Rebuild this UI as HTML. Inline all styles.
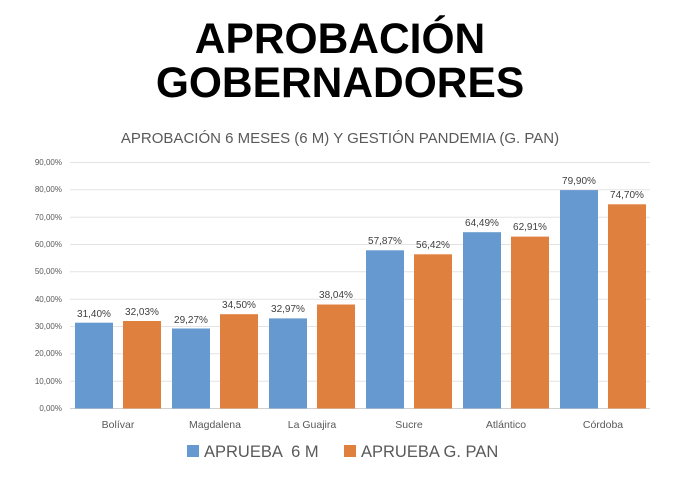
<!DOCTYPE html>
<html><head><meta charset="utf-8"><style>
body{margin:0;background:#fff;width:680px;height:489px;overflow:hidden}
</style></head><body>
<svg width="680" height="489" xmlns="http://www.w3.org/2000/svg" font-family="Liberation Sans, sans-serif">
<text x="340" y="53" text-anchor="middle" font-size="42.5" font-weight="bold" fill="#000">APROBACIÓN</text>
<text x="340" y="97" text-anchor="middle" font-size="42.5" font-weight="bold" fill="#000">GOBERNADORES</text>
<text x="340" y="143" text-anchor="middle" font-size="15" fill="#595959">APROBACIÓN 6 MESES (6 M) Y GESTIÓN PANDEMIA (G. PAN)</text>
<g stroke="#e3e3e3" stroke-width="1">
<line x1="70" x2="650" y1="162.5" y2="162.5"/><line x1="70" x2="650" y1="189.8" y2="189.8"/><line x1="70" x2="650" y1="217.2" y2="217.2"/><line x1="70" x2="650" y1="244.5" y2="244.5"/><line x1="70" x2="650" y1="271.8" y2="271.8"/><line x1="70" x2="650" y1="299.2" y2="299.2"/><line x1="70" x2="650" y1="326.5" y2="326.5"/><line x1="70" x2="650" y1="353.8" y2="353.8"/><line x1="70" x2="650" y1="381.2" y2="381.2"/>
</g>
<line x1="70" x2="650" y1="408.5" y2="408.5" stroke="#d0d0d0"/>
<g font-size="8" fill="#595959" text-anchor="end">
<text x="62" y="165">90,00%</text><text x="62" y="192">80,00%</text><text x="62" y="220">70,00%</text><text x="62" y="247">60,00%</text><text x="62" y="274">50,00%</text><text x="62" y="302">40,00%</text><text x="62" y="329">30,00%</text><text x="62" y="356">20,00%</text><text x="62" y="384">10,00%</text><text x="62" y="411">0,00%</text>
</g>
<g font-size="10" fill="#404040" text-anchor="middle">
<rect x="75" y="322.7" width="38" height="85.8" fill="#6699CF"/><text x="94" y="317">31,40%</text>
<rect x="123" y="321.0" width="38" height="87.5" fill="#E0803F"/><text x="142" y="315">32,03%</text>
<rect x="172" y="328.5" width="38" height="80.0" fill="#6699CF"/><text x="191" y="323">29,27%</text>
<rect x="220" y="314.2" width="38" height="94.3" fill="#E0803F"/><text x="239" y="308">34,50%</text>
<rect x="269" y="318.4" width="38" height="90.1" fill="#6699CF"/><text x="288" y="312">32,97%</text>
<rect x="317" y="304.5" width="38" height="104.0" fill="#E0803F"/><text x="336" y="298">38,04%</text>
<rect x="366" y="250.3" width="38" height="158.2" fill="#6699CF"/><text x="385" y="244">57,87%</text>
<rect x="414" y="254.3" width="38" height="154.2" fill="#E0803F"/><text x="433" y="248">56,42%</text>
<rect x="463" y="232.2" width="38" height="176.3" fill="#6699CF"/><text x="482" y="226">64,49%</text>
<rect x="511" y="236.6" width="38" height="171.9" fill="#E0803F"/><text x="530" y="230">62,91%</text>
<rect x="560" y="190.1" width="38" height="218.4" fill="#6699CF"/><text x="579" y="184">79,90%</text>
<rect x="608" y="204.3" width="38" height="204.2" fill="#E0803F"/><text x="627" y="198">74,70%</text>
</g>
<g font-size="10.5" fill="#595959" text-anchor="middle">
<text x="118" y="428">Bolívar</text><text x="215" y="428">Magdalena</text><text x="312" y="428">La Guajira</text><text x="409" y="428">Sucre</text><text x="506" y="428">Atlántico</text><text x="603" y="428">Córdoba</text>
</g>
<rect x="187" y="445" width="12" height="12" fill="#6699CF"/>
<text x="204" y="457" font-size="16.5" fill="#595959" xml:space="preserve">APRUEBA  6 M</text>
<rect x="344" y="445" width="12" height="12" fill="#E0803F"/>
<text x="361" y="457" font-size="16.5" fill="#595959">APRUEBA G. PAN</text>
</svg>
</body></html>
